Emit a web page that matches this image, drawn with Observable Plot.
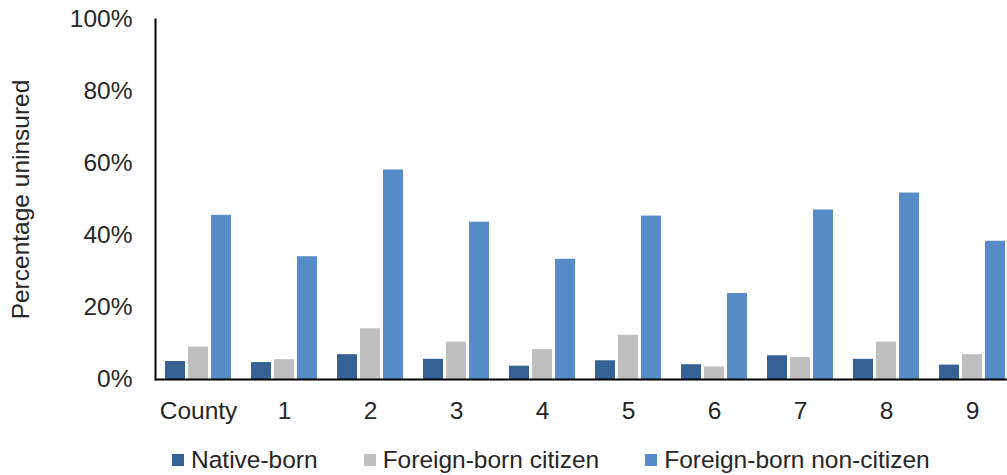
<!DOCTYPE html>
<html>
<head>
<meta charset="utf-8">
<script src="https://cdn.jsdelivr.net/npm/d3@7"></script>
<script src="https://cdn.jsdelivr.net/npm/@observablehq/plot@0.6"></script>
<style>
  html, body { margin: 0; padding: 0; background: #fff; overflow: hidden; width: 1007px; height: 475px; }
  #chart { position: relative; width: 1007px; }
  #chart svg { max-width: none !important; }
  .legend {
    display: flex; align-items: center; height: 45px; padding: 15px 0 0 172px; box-sizing: border-box;
    font-family: "Liberation Sans", Arial, sans-serif; font-size: 24.5px; color: #262626; white-space: nowrap;
  }
  .legend .item { display: flex; align-items: center; margin-right: 46px; }
  .legend .swatch { width: 12px; height: 12px; margin-right: 7px; }
</style>
</head>
<body>
<div id="chart"></div>
<script>
// Uninsured rate by nativity, county total and districts 1–9
const categories = ["County", "1", "2", "3", "4", "5", "6", "7", "8", "9"];
const series = ["Native-born", "Foreign-born citizen", "Foreign-born non-citizen"];
const nativeBorn = [5.0, 4.7, 6.9, 5.6, 3.7, 5.2, 4.1, 6.6, 5.6, 4.0];
const foreignBornCitizen = [9.0, 5.5, 14.1, 10.4, 8.3, 12.3, 3.5, 6.1, 10.4, 6.9];
const foreignBornNonCitizen = [45.6, 34.1, 58.2, 43.7, 33.4, 45.4, 23.9, 47.1, 51.8, 38.4];
const yTicks = [0, 20, 40, 60, 80, 100];
const colors = ["#366195", "#bfbfbf", "#578cc9"];

const valuesBySeries = [nativeBorn, foreignBornCitizen, foreignBornNonCitizen];
const rows = categories.flatMap((category, i) =>
  series.map((s, j) => ({category, series: s, value: valuesBySeries[j][i]}))
);

const chart = Plot.plot({
  width: 1017,
  height: 430,
  marginLeft: 153,
  marginRight: 0,
  marginTop: 19,
  marginBottom: 51,
  style: {
    fontFamily: '"Liberation Sans", Arial, sans-serif',
    fontSize: "24.5px",
    color: "#262626",
    background: "#fff",
    overflow: "visible",
    maxWidth: "none"
  },
  fx: {domain: categories, paddingInner: 0, paddingOuter: 0, label: null, tickSize: 0, tickPadding: 22, axis: "bottom"},
  x: {domain: series, axis: null, paddingInner: 0.149, paddingOuter: 0.4255},
  y: {
    domain: [0, 100],
    ticks: yTicks,
    tickFormat: d => `${d}%`,
    tickSize: 0,
    tickPadding: 23,
    label: "Percentage uninsured",
    labelArrow: "none",
    labelAnchor: "center",
    labelOffset: 144
  },
  color: {domain: series, range: colors},
  marks: [
    Plot.barY(rows, {fx: "category", x: "series", y: "value", fill: "series"}),
    Plot.frame({anchor: "left", stroke: "#000", strokeWidth: 2, facetAnchor: "left"}),
    Plot.ruleY([0], {stroke: "#000", strokeWidth: 2})
  ]
});

const root = document.getElementById("chart");
root.appendChild(chart);

// Legend below the plot
const legend = document.createElement("div");
legend.className = "legend";
series.forEach((s, i) => {
  const item = document.createElement("div");
  item.className = "item";
  const sw = document.createElement("span");
  sw.className = "swatch";
  sw.style.background = colors[i];
  const label = document.createElement("span");
  label.textContent = s;
  item.appendChild(sw);
  item.appendChild(label);
  legend.appendChild(item);
});
root.appendChild(legend);
</script>
</body>
</html>
